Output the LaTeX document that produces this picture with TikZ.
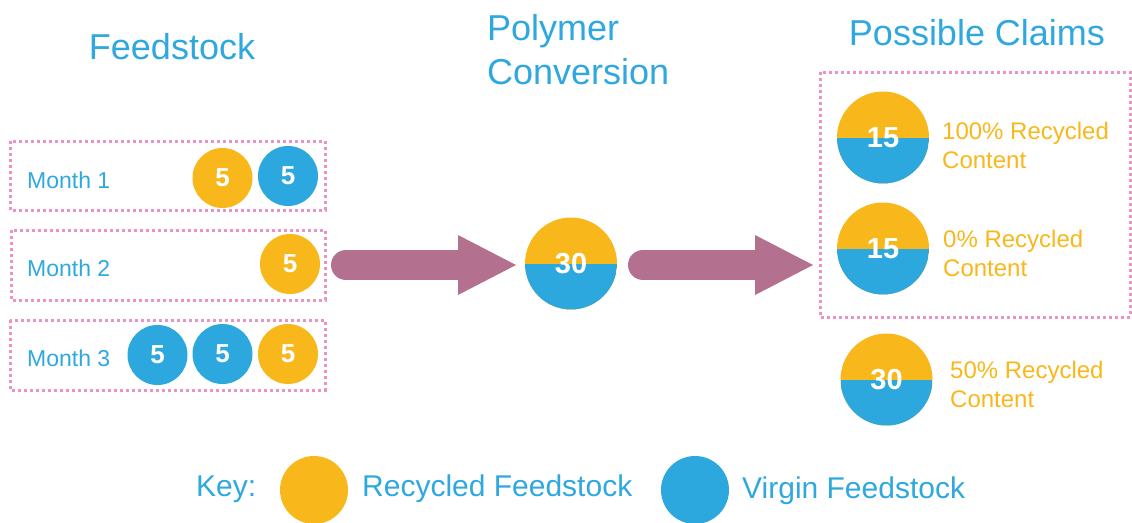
\documentclass[tikz,border=0pt]{standalone}
\usepackage{fontspec}
\setmainfont{Liberation Sans}
\definecolor{recy}{HTML}{F8B81B}
\definecolor{virg}{HTML}{2CA8DF}
\definecolor{txtblue}{HTML}{2EA8DF}
\definecolor{txtorange}{HTML}{F8B71A}
\definecolor{dotpink}{HTML}{E994C2}
\definecolor{mauve}{HTML}{B3718F}
\tikzset{
  title/.style={text=txtblue, font=\fontsize{36}{44}\selectfont, align=left, inner sep=0pt},
  monthbox/.style={draw=dotpink, line width=3pt, dash pattern=on 3pt off 3pt},
  monthlabel/.style={text=txtblue, font=\fontsize{23}{27}\selectfont, anchor=west, inner sep=0pt},
  ball/.style={circle, minimum size=60pt, inner sep=0pt, text=white, font=\bfseries\fontsize{26}{30}\selectfont},
  recball/.style={ball, fill=recy},
  virball/.style={ball, fill=virg},
  mixball/.style={circle, minimum size=92pt, inner sep=0pt, fill=recy, text=white,
    font=\bfseries\fontsize{29}{34}\selectfont,
    path picture={\fill[virg] (path picture bounding box.west) rectangle (path picture bounding box.south east);}},
  claim/.style={text=txtorange, font=\fontsize{24}{29}\selectfont, align=left, anchor=west, inner sep=0pt},
  keytext/.style={text=txtblue, font=\fontsize{30}{36}\selectfont, anchor=west, inner sep=0pt},
  shaft/.style={mauve, line width=30pt, line cap=round},
  head/.style={fill=mauve}
}
\begin{document}
\begin{tikzpicture}[x=1pt,y=-1pt]
\useasboundingbox (0,0) rectangle (1132,522);

% column titles
\node[title] (tfeed) at (172,47) {Feedstock};
\node[title, anchor=west] (tpoly) at (487,50) {Polymer\\Conversion};
\node[title] (tclaims) at (977,33) {Possible Claims};

% monthly feedstock
\draw[monthbox] (10,141) rectangle (325,210);
\draw[monthbox] (11,230) rectangle (325,300);
\draw[monthbox] (10,320) rectangle (325,390);
\node[monthlabel] (m1) at (27,180) {Month 1};
\node[monthlabel] (m2) at (27,268) {Month 2};
\node[monthlabel] (m3) at (27,358) {Month 3};
\node[recball] (m1a) at (222.5,178) {5};
\node[virball] (m1b) at (288,176) {5};
\node[recball] (m2a) at (290,264) {5};
\node[virball] (m3a) at (157.5,355) {5};
\node[virball] (m3b) at (222.5,354) {5};
\node[recball] (m3c) at (288,354) {5};

% conversion
\node[mixball] (poly) at (571,263.5) {30};

% fat arrows
\coordinate (a1s) at (346,265);
\coordinate (a1h) at (458,265);
\coordinate (a1t) at (516,265);
\draw[shaft] (a1s) -- (a1h);
\fill[head] (a1t) -- ([yshift=-30pt]a1h) -- ([yshift=30pt]a1h) -- cycle;
\coordinate (a2s) at (643,265);
\coordinate (a2h) at (755,265);
\coordinate (a2t) at (813,265);
\draw[shaft] (a2s) -- (a2h);
\fill[head] (a2t) -- ([yshift=-30pt]a2h) -- ([yshift=30pt]a2h) -- cycle;

% possible claims
\draw[monthbox] (820,72) rectangle (1130,317);
\node[mixball] (c1) at (883,137.5) {15};
\node[mixball] (c2) at (883,248.5) {15};
\node[mixball] (c3) at (886.5,379.5) {30};
\node[claim] (l1) at (942,145) {100\% Recycled\\Content};
\node[claim] (l2) at (943,253) {0\% Recycled\\Content};
\node[claim] (l3) at (950,384) {50\% Recycled\\Content};

% key
\node[keytext] (key) at (196,489) {Key:};
\node[circle, fill=recy, minimum size=68pt, inner sep=0pt] (krec) at (314,490) {};
\node[keytext] (krect) at (362,489) {Recycled Feedstock};
\node[circle, fill=virg, minimum size=68pt, inner sep=0pt] (kvir) at (695,490) {};
\node[keytext] (kvirt) at (742,491) {Virgin Feedstock};
\end{tikzpicture}
\end{document}
